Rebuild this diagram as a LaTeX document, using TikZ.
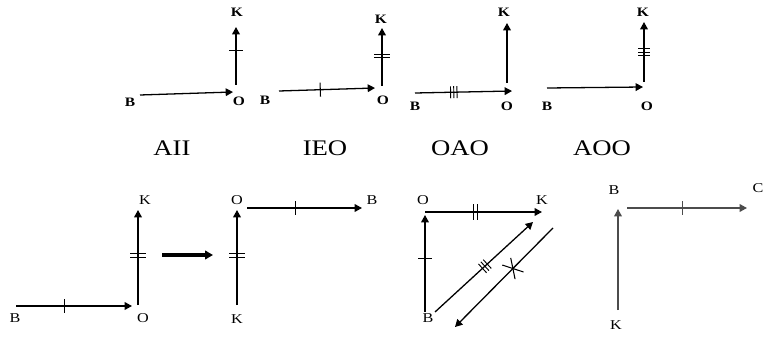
\documentclass[tikz,border=0pt]{standalone}
\usepackage{fontspec}
\setmainfont{Liberation Serif}
\newfontfamily\widefont[FakeStretch=1.2]{Liberation Serif}
\usetikzlibrary{arrows.meta,decorations.markings}

\begin{document}
\begin{tikzpicture}[
  x=0.3mm, y=-0.3mm,
  >={Triangle[length=2.2mm, width=2.3mm]},
  ln/.style={line width=1.1pt},
  arr/.style={ln, ->},
  big/.style={-{Triangle[length=2.4mm, width=2.6mm]}, line width=2.6pt},
  lbl/.style={font=\widefont\fontsize{11}{12}\selectfont\bfseries, inner sep=0pt},
  lblr/.style={font=\widefont\fontsize{11.5}{12}\selectfont, inner sep=0pt},
  title/.style={font=\widefont\fontsize{19}{20}\selectfont, inner sep=0pt},
  tk/.style={-, line width=0.9pt},
  onetick/.style={postaction={decorate, decoration={markings,
      mark=at position #1 with {\draw[tk] (0,-7)--(0,7);}}}},
  twotick/.style={postaction={decorate, decoration={markings,
      mark=at position #1 with {\draw[tk]
        (-1.8,-8)--(-1.8,8) (1.8,-8)--(1.8,8);}}}},
  threetick/.style={postaction={decorate, decoration={markings,
      mark=at position #1 with {\draw[tk, line width=0.8pt]
        (-3.2,-6)--(-3.2,6) (0,-6)--(0,6) (3.2,-6)--(3.2,6);}}}},
  crosstick/.style={postaction={decorate, decoration={markings,
      mark=at position #1 with {\draw[tk]
        (-5,-10)--(5,10) (6,-9)--(-6,9);}}}},
]
\useasboundingbox (0,0) rectangle (763,338);

% top row
\node[lbl] (b1) at (130,102) {B};
\node[lbl] (o1) at (239,101) {O};
\node[lbl] (k1) at (237,12) {K};
\coordinate (b1s) at (140,95);
\coordinate (b1e) at (233,92);
\coordinate (k1s) at (236,85);
\coordinate (k1e) at (236,27);
\draw[arr] (b1s) -- (b1e);
\draw[arr, onetick=0.59] (k1s) -- (k1e);
\node[title] (aii) at (172,148) {AII};

\node[lbl] (b2) at (265,100) {B};
\node[lbl] (o2) at (383,100) {O};
\node[lbl] (k2) at (381,19) {K};
\coordinate (b2s) at (279,91);
\coordinate (b2e) at (375,88);
\coordinate (k2s) at (382,86);
\coordinate (k2e) at (382,28);
\draw[arr, onetick=0.43] (b2s) -- (b2e);
\draw[arr, twotick=0.52] (k2s) -- (k2e);
\node[title] (ieo) at (325,148) {IEO};

\node[lbl] (b3) at (415,106) {B};
\node[lbl] (o3) at (507,106) {O};
\node[lbl] (k3) at (504,12) {K};
\coordinate (b3s) at (415,93);
\coordinate (b3e) at (512,91);
\coordinate (k3s) at (507,83);
\coordinate (k3e) at (507,23);
\draw[arr, threetick=0.40] (b3s) -- (b3e);
\draw[arr] (k3s) -- (k3e);
\node[title] (oao) at (460,148) {OAO};

\node[lbl] (b4) at (547,106) {B};
\node[lbl] (o4) at (647,106) {O};
\node[lbl] (k4) at (643,12) {K};
\coordinate (b4s) at (547,88);
\coordinate (b4e) at (643,87);
\coordinate (k4s) at (644,82);
\coordinate (k4e) at (644,22);
\draw[arr] (b4s) -- (b4e);
\draw[arr, threetick=0.50] (k4s) -- (k4e);
\node[title] (aoo) at (602,148) {AOO};

% bottom row
\node[lblr] (b5) at (15,318) {B};
\node[lblr] (o5) at (143,318) {O};
\node[lblr] (k5) at (145,200) {K};
\coordinate (b5s) at (16,306);
\coordinate (b5e) at (132,306);
\coordinate (k5s) at (138,305);
\coordinate (k5e) at (138,210);
\draw[arr, onetick=0.42] (b5s) -- (b5e);
\draw[arr, twotick=0.52] (k5s) -- (k5e);

\coordinate (gos) at (162,255);
\coordinate (goe) at (213,255);
\draw[big] (gos) -- (goe);

\node[lblr] (k6) at (237,319) {K};
\node[lblr] (o6) at (237,200) {O};
\node[lblr] (b6) at (372,200) {B};
\coordinate (k6s) at (237,305);
\coordinate (k6e) at (237,210);
\coordinate (b6s) at (247,208);
\coordinate (b6e) at (362,208);
\draw[arr, twotick=0.52] (k6s) -- (k6e);
\draw[arr, onetick=0.42] (b6s) -- (b6e);

\node[lblr] (o7) at (423,200) {O};
\node[lblr] (k7) at (542,200) {K};
\node[lblr] (b7) at (428,318) {B};
\coordinate (b7s) at (425,312);
\coordinate (b7e) at (425,215);
\coordinate (k7s) at (425,212);
\coordinate (k7e) at (542,212);
\coordinate (d1s) at (435,312);
\coordinate (d1e) at (533,222);
\coordinate (d2s) at (553,228);
\coordinate (d2e) at (455,327);
\draw[arr, onetick=0.55] (b7s) -- (b7e);
\draw[arr, twotick=0.43] (k7s) -- (k7e);
\draw[arr, threetick=0.51] (d1s) -- (d1e);
\draw[arr, crosstick=0.41] (d2s) -- (d2e);

\begin{scope}[black!70]
\node[lblr, black] (b8) at (614,190) {B};
\node[lblr, black] (k8) at (616,325) {K};
\node[lblr, black] (c8) at (758,188) {C};
\coordinate (k8s) at (618,310);
\coordinate (k8e) at (618,209);
\coordinate (c8s) at (627,208);
\coordinate (c8e) at (747,208);
\draw[arr] (k8s) -- (k8e);
\draw[arr, onetick=0.46] (c8s) -- (c8e);
\end{scope}
\end{tikzpicture}
\end{document}
